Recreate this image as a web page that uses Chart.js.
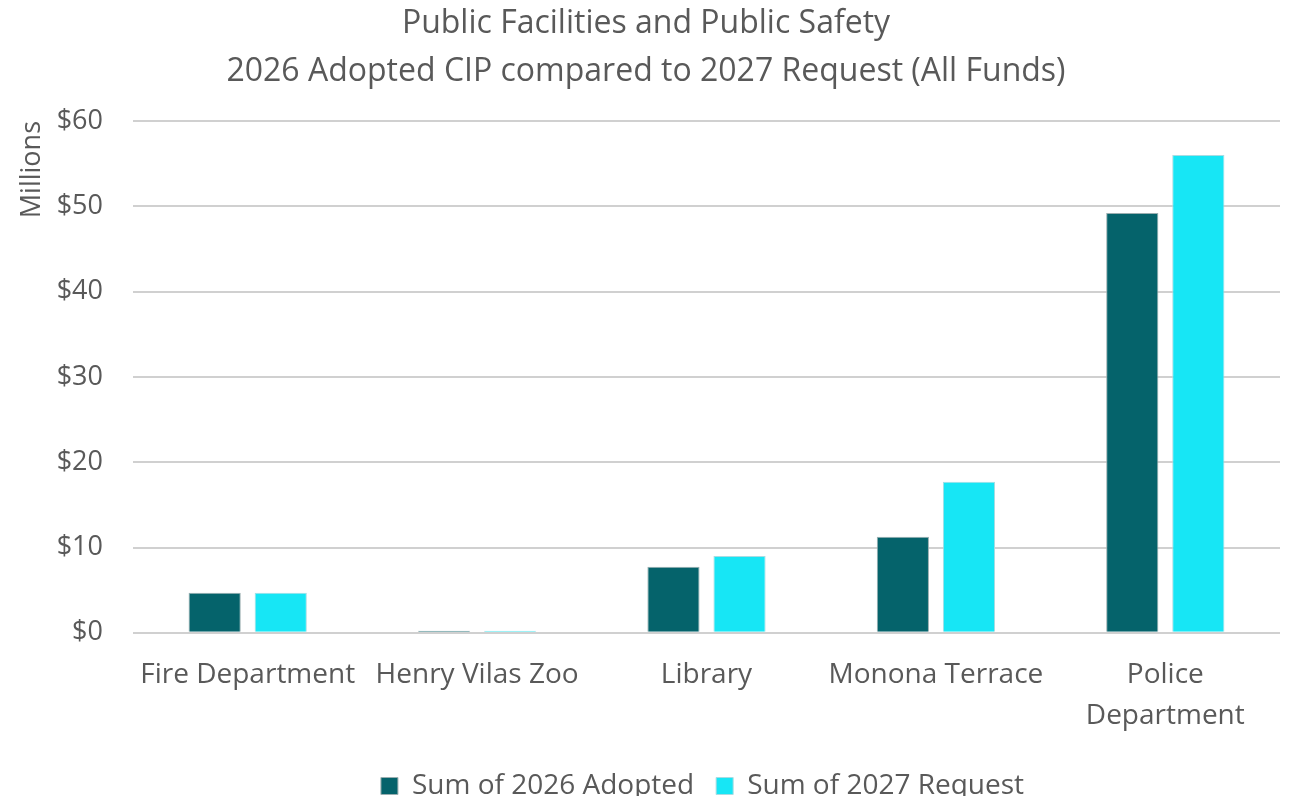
<!DOCTYPE html>
<html>
<head>
<meta charset="utf-8">
<script src="https://cdn.jsdelivr.net/npm/chart.js@4.4.1/dist/chart.umd.min.js"></script>
<style>
  html, body { margin: 0; padding: 0; background: #fff; }
  #wrap { width: 1292px; height: 796px; position: relative; }
</style>
</head>
<body>
<div id="wrap"><canvas id="chart"></canvas></div>
<script>
const categories = ['Fire Department', 'Henry Vilas Zoo', 'Library', 'Monona Terrace', ['Police', 'Department']];
const adopted2026 = [4.7, 0.25, 7.75, 11.25, 49.2];
const request2027 = [4.7, 0.25, 9.0, 17.7, 56.0];
const yTicks = [0, 10, 20, 30, 40, 50, 60];

const textColor = '#595959';
const fontFamily = '"Open Sans", Lato, sans-serif';

// centre the legend under the plot area instead of the whole canvas
const legendShift = {
  id: 'legendShift',
  afterLayout(chart) {
    const area = chart.chartArea;
    const dx = (area.left + area.right) / 2 - chart.width / 2 - 4;
    chart.legend.left += dx;
    chart.legend.right += dx;
  }
};

new Chart(document.getElementById('chart'), {
  type: 'bar',
  data: {
    labels: categories,
    datasets: [
      { label: 'Sum of 2026 Adopted', data: adopted2026, backgroundColor: '#05636B', borderColor: '#9aaeb0', borderWidth: 1 },
      { label: 'Sum of 2027 Request', data: request2027, backgroundColor: '#17E6F5', borderColor: '#a8dce2', borderWidth: 1 }
    ]
  },
  plugins: [legendShift],
  options: {
    responsive: true,
    maintainAspectRatio: false,
    animation: false,
    layout: { padding: { top: 0, right: 12, left: 12, bottom: -14 } },
    datasets: { bar: { categoryPercentage: 0.576, barPercentage: 0.79 } },
    plugins: {
      title: {
        display: true,
        text: ['Public Facilities and Public Safety', '2026 Adopted CIP compared to 2027 Request (All Funds)'],
        color: textColor,
        font: { family: fontFamily, size: 32, weight: 'normal', lineHeight: 1.5 },
        padding: { top: 0, bottom: 25 }
      },
      legend: {
        position: 'bottom',
        labels: {
          color: textColor,
          font: { family: fontFamily, size: 28 },
          boxWidth: 17,
          boxHeight: 17,
          padding: 22
        }
      },
      tooltip: { enabled: false }
    },
    scales: {
      x: {
        grid: { display: false },
        border: { display: false },
        ticks: { color: textColor, font: { family: fontFamily, size: 28, lineHeight: 1.45 }, maxRotation: 0, autoSkip: false, padding: 14 }
      },
      y: {
        min: 0,
        max: 60,
        afterBuildTicks: axis => { axis.ticks = yTicks.map(v => ({ value: v })); },
        afterFit: axis => { axis.width = 121; },
        grid: { color: '#d0d0d0', lineWidth: 2, drawTicks: false },
        border: { display: false },
        ticks: { color: textColor, font: { family: fontFamily, size: 27 }, padding: 30, callback: v => '$' + v },
        title: { display: true, text: 'Millions', align: 'end', color: textColor, font: { family: fontFamily, size: 27 }, padding: { bottom: 12 } }
      }
    }
  }
});
</script>
</body>
</html>
